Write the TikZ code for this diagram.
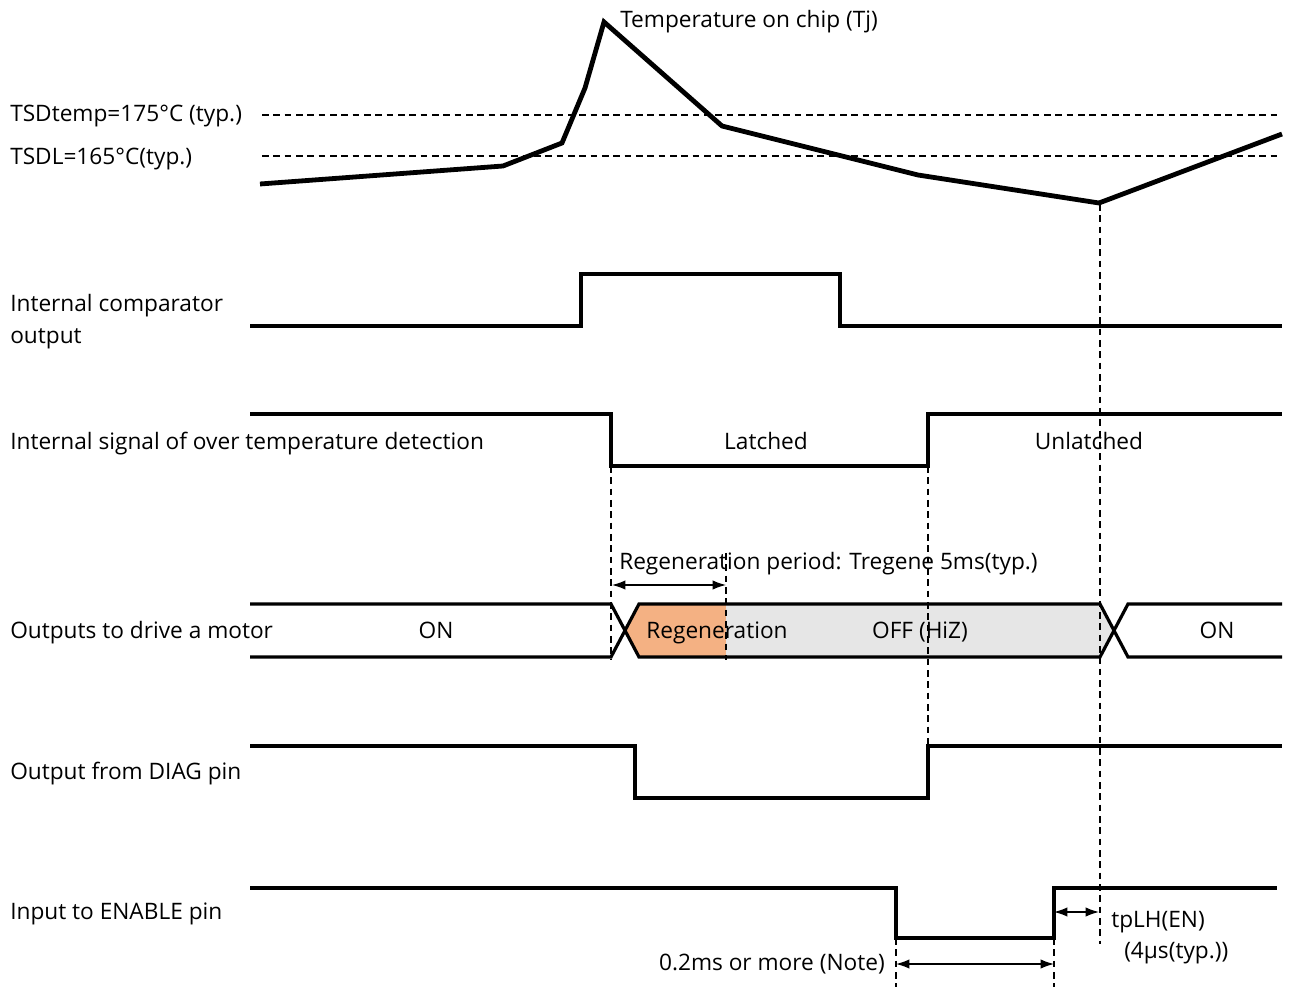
\documentclass[tikz,border=0pt]{standalone}
\usepackage{fontspec}
\setmainfont{Open Sans}
\usetikzlibrary{arrows.meta}
\begin{document}
\begin{tikzpicture}[x=0.75pt,y=-0.75pt,
  sig/.style={line width=2.4pt, line join=miter},
  tempcurve/.style={line width=3.6pt, line join=miter},
  guide/.style={line width=0.9pt, dash pattern=on 5pt off 3.5pt},
  lbl/.style={font=\fontsize{17}{24}\selectfont, inner sep=0pt},
  dimarrow/.style={{Latex[length=10pt,width=7pt]}-{Latex[length=10pt,width=7pt]}, line width=1pt},
  orangefill/.style={fill=orangeF},
  grayfill/.style={fill=grayF}
]
\definecolor{orangeF}{HTML}{F4B183}
\definecolor{grayF}{HTML}{E6E6E6}
\useasboundingbox[fill=white] (0,0) rectangle (1290,987);

% ---------- temperature ----------
\coordinate (t1) at (260,184);
\coordinate (t2) at (503,166);
\coordinate (t3) at (562,143);
\coordinate (t4) at (585,88);
\coordinate (t5) at (604,22);
\coordinate (t6) at (722,126);
\coordinate (t7) at (918,175);
\coordinate (t8) at (1099,203);
\coordinate (t9) at (1282,134);
\coordinate (hA1) at (262,115); \coordinate (hA2) at (1280,115);
\coordinate (hB1) at (262,156); \coordinate (hB2) at (1280,156);
\draw[guide] (hA1) -- (hA2);
\draw[guide] (hB1) -- (hB2);
\draw[tempcurve] (t1) -- (t2) -- (t3) -- (t4) -- (t5) -- (t6) -- (t7) -- (t8) -- (t9);
\node[lbl, anchor=mid west] (ltsd) at (10,118) {TSDtemp=175°C (typ.)};
\node[lbl, anchor=mid west] (ltsdl) at (10,161) {TSDL=165°C(typ.)};
\node[lbl, anchor=mid west] (ltemp) at (620,24) {Temperature on chip (Tj)};

% ---------- comparator ----------
\coordinate (c1) at (250,326);
\coordinate (c2) at (581,326);
\coordinate (c3) at (581,274);
\coordinate (c4) at (840,274);
\coordinate (c5) at (840,326);
\coordinate (c6) at (1282,326);
\draw[sig] (c1) -- (c2) -- (c3) -- (c4) -- (c5) -- (c6);
\node[lbl, anchor=west, align=left] (lcomp) at (10,322) {Internal comparator\\output};

% ---------- internal signal ----------
\coordinate (s1) at (250,414);
\coordinate (s2) at (611,414);
\coordinate (s3) at (611,466);
\coordinate (s4) at (928,466);
\coordinate (s5) at (928,414);
\coordinate (s6) at (1282,414);
\draw[sig] (s1) -- (s2) -- (s3) -- (s4) -- (s5) -- (s6);
\node[lbl, anchor=mid west] (lsig) at (10,446) {Internal signal of over temperature detection};
\node[lbl, anchor=mid] (llatch) at (766,446) {Latched};
\node[lbl, anchor=mid] (lunlatch) at (1089,446) {Unlatched};

% ---------- outputs ----------
\fill[orangefill] (639,604) -- (726,604) -- (726,657) -- (639,657) -- (625,630.5) -- cycle;
\fill[grayfill] (726,604) -- (1100,604) -- (1114,630.5) -- (1100,657) -- (726,657) -- cycle;
\coordinate (o1) at (250,604);
\coordinate (o2) at (611,604);
\coordinate (o3) at (639,657);
\coordinate (o4) at (1100,657);
\coordinate (o5) at (1128,604);
\coordinate (o6) at (1282,604);
\coordinate (p1) at (250,657);
\coordinate (p2) at (611,657);
\coordinate (p3) at (639,604);
\coordinate (p4) at (1100,604);
\coordinate (p5) at (1128,657);
\coordinate (p6) at (1282,657);
\draw[sig] (o1) -- (o2) -- (o3) -- (o4) -- (o5) -- (o6);
\draw[sig] (p1) -- (p2) -- (p3) -- (p4) -- (p5) -- (p6);
\node[lbl, anchor=mid west] (lout) at (10,635) {Outputs to drive a motor};
\node[lbl, anchor=mid] (lon1) at (436,635) {ON};
\node[lbl, anchor=mid] (lregen) at (717,635) {Regeneration};
\node[lbl, anchor=mid] (loff) at (920,635) {OFF (HiZ)};
\node[lbl, anchor=mid] (lon2) at (1217,635) {ON};

% regeneration period
\node[lbl, anchor=mid west] (lperiod) at (619,566) {Regeneration period: Tregene 5ms(typ.)};
\coordinate (ra) at (612,585);
\coordinate (rb) at (726,585);
\draw[dimarrow] (ra) -- (rb);

% ---------- DIAG ----------
\coordinate (d1) at (250,746);
\coordinate (d2) at (635,746);
\coordinate (d3) at (635,798);
\coordinate (d4) at (928,798);
\coordinate (d5) at (928,746);
\coordinate (d6) at (1282,746);
\draw[sig] (d1) -- (d2) -- (d3) -- (d4) -- (d5) -- (d6);
\node[lbl, anchor=mid west] (ldiag) at (10,776) {Output from DIAG pin};

% ---------- ENABLE ----------
\coordinate (e1) at (250,888);
\coordinate (e2) at (896,888);
\coordinate (e3) at (896,938);
\coordinate (e4) at (1054,938);
\coordinate (e5) at (1054,888);
\coordinate (e6) at (1277,888);
\draw[sig] (e1) -- (e2) -- (e3) -- (e4) -- (e5) -- (e6);
\node[lbl, anchor=mid west] (len) at (10,916) {Input to ENABLE pin};

\coordinate (na) at (896,964);
\coordinate (nb) at (1054,964);
\draw[dimarrow] (na) -- (nb);
\node[lbl, anchor=mid east] (lnote) at (885,967) {0.2ms or more (Note)};

\coordinate (ta) at (1054,912);
\coordinate (tb) at (1099,912);
\draw[dimarrow] (ta) -- (tb);
\node[lbl, anchor=mid west] (ltp) at (1111,924) {tpLH(EN)};
\node[lbl, anchor=mid west] (ltyp) at (1124,955) {(4µs(typ.))};

% ---------- vertical guides ----------
\coordinate (v1a) at (611,466); \coordinate (v1b) at (611,660);
\coordinate (v2a) at (726,553); \coordinate (v2b) at (726,660);
\coordinate (v3a) at (928,466); \coordinate (v3b) at (928,748);
\coordinate (v4a) at (1100,204); \coordinate (v4b) at (1100,944);
\coordinate (v5a) at (896,938); \coordinate (v5b) at (896,987);
\coordinate (v6a) at (1054,938); \coordinate (v6b) at (1054,987);
\draw[guide] (v1a) -- (v1b);
\draw[guide] (v2a) -- (v2b);
\draw[guide] (v3a) -- (v3b);
\draw[guide] (v4a) -- (v4b);
\draw[guide] (v5a) -- (v5b);
\draw[guide] (v6a) -- (v6b);
\end{tikzpicture}
\end{document}
